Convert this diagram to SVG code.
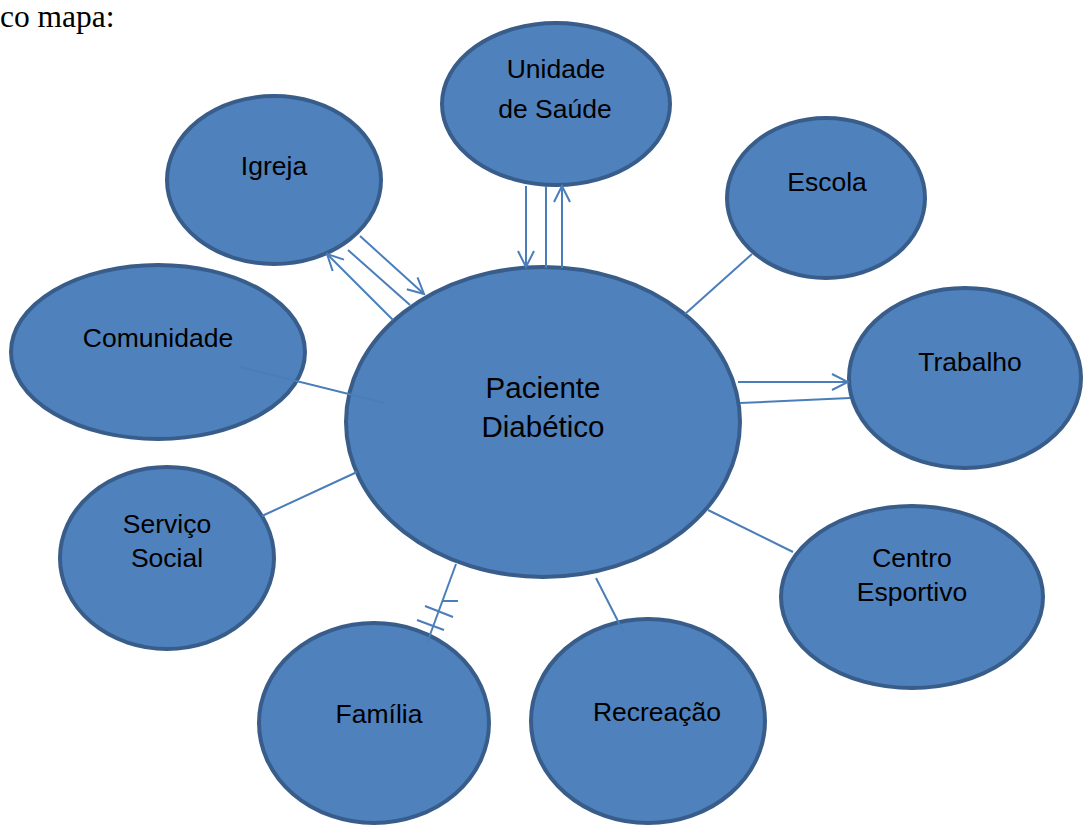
<svg xmlns="http://www.w3.org/2000/svg" width="1083" height="826" viewBox="0 0 1083 826">
<defs>
<style>
.n{fill:#4F81BD;stroke:#385D8A;stroke-width:4}
.t{font-family:"Liberation Sans",Arial,sans-serif;font-size:26.5px;fill:#000;text-anchor:middle}
.t.big{font-size:29.5px}
.c{stroke:#4A7EBB;stroke-width:2;fill:none}
</style>
<marker id="a" viewBox="0 0 20 20" refX="18" refY="10" markerWidth="20" markerHeight="20" markerUnits="userSpaceOnUse" orient="auto">
<path d="M2,2 L18,10 L2,18" fill="none" stroke="#4A7EBB" stroke-width="2"/>
</marker>
</defs>
<rect width="1083" height="826" fill="#fff"/>
<text x="0" y="27" font-family="Liberation Serif,Times New Roman,serif" font-size="31.5">co mapa:</text>
<g id="unidade"><ellipse class="n" cx="556" cy="104" rx="114" ry="81"/><text class="t" x="556" y="78">Unidade</text><text class="t" x="555" y="118">de Saúde</text></g>
<g id="igreja"><ellipse class="n" cx="274" cy="180" rx="107" ry="84"/><text class="t" x="274" y="175">Igreja</text></g>
<g id="escola"><ellipse class="n" cx="826" cy="198" rx="99" ry="80"/><text class="t" x="827" y="191">Escola</text></g>
<g id="comunidade"><ellipse class="n" cx="158" cy="352" rx="147" ry="87"/><text class="t" x="158" y="347">Comunidade</text></g>
<g id="trabalho"><ellipse class="n" cx="965" cy="378" rx="116" ry="90"/><text class="t" x="970" y="371">Trabalho</text></g>
<g id="servico"><ellipse class="n" cx="167" cy="558" rx="107" ry="91"/><text class="t" x="167" y="533">Serviço</text><text class="t" x="167" y="567">Social</text></g>
<g id="centro"><ellipse class="n" cx="912" cy="597" rx="131" ry="91"/><text class="t" x="912" y="567">Centro</text><text class="t" x="912" y="601">Esportivo</text></g>
<g id="familia"><ellipse class="n" cx="374" cy="723" rx="115" ry="100"/><text class="t" x="379" y="723">Família</text></g>
<g id="recreacao"><ellipse class="n" cx="648" cy="721" rx="117" ry="102"/><text class="t" x="657" y="721">Recreação</text></g>
<g id="central"><ellipse class="n" cx="543" cy="422" rx="197" ry="155"/><text class="t big" x="543" y="398">Paciente</text><text class="t big" x="543" y="437">Diabético</text></g>
<g id="connectors">
<line class="c" x1="360" y1="236" x2="424" y2="294" marker-end="url(#a)"/>
<line class="c" x1="348" y1="250" x2="410" y2="305"/>
<line class="c" x1="393" y1="320" x2="327" y2="254" marker-end="url(#a)"/>
<line class="c" x1="526" y1="186" x2="526" y2="267" marker-end="url(#a)"/>
<line class="c" x1="546" y1="186" x2="546" y2="268"/>
<line class="c" x1="562" y1="268" x2="562" y2="186" marker-end="url(#a)"/>
<line class="c" x1="752" y1="254" x2="685" y2="314"/>
<line class="c" x1="738" y1="382" x2="848" y2="382" marker-end="url(#a)"/>
<line class="c" x1="740" y1="403" x2="850" y2="398"/>
<line class="c" x1="240" y1="367" x2="385" y2="403"/>
<line class="c" x1="262" y1="516" x2="357" y2="472"/>
<line class="c" x1="708" y1="510" x2="793" y2="552"/>
<line class="c" x1="596" y1="578" x2="624" y2="633"/>
<line class="c" x1="456" y1="564" x2="427" y2="643"/>
<line class="c" x1="443" y1="601" x2="458" y2="601"/>
<line class="c" x1="425" y1="606" x2="453" y2="617"/>
<line class="c" x1="417" y1="620" x2="444" y2="630"/>
</g>
</svg>
